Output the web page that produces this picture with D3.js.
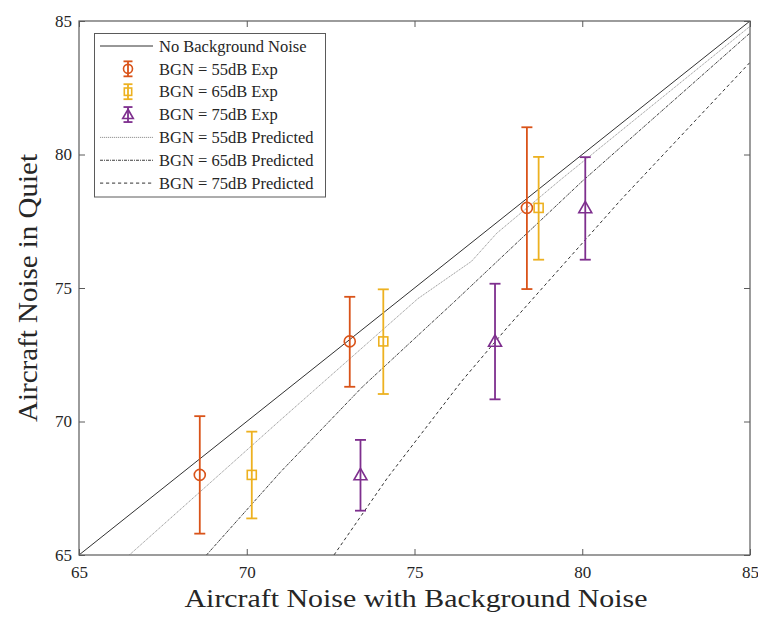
<!DOCTYPE html>
<html>
<head>
<meta charset="utf-8">
<script src="https://cdn.jsdelivr.net/npm/d3@7"></script>
<style>
  html, body { margin: 0; padding: 0; background: #fff; }
  svg { display: block; }
  text { font-family: "Palatino Linotype", "Book Antiqua", Palatino, "Liberation Serif", "DejaVu Serif", serif; fill: #262626; }
</style>
</head>
<body>
<svg id="chart" width="758" height="622"></svg>
<script>
// Axis ticks
const xTicks = [65, 70, 75, 80, 85];
const yTicks = [65, 70, 75, 80, 85];

// Measured levels (x = with background noise, y = in quiet, lo/hi = error bar ends)
const exp55 = [
  { x: 68.6, y: 68, lo: 65.8, hi: 70.2 },
  { x: 73.07, y: 73, lo: 71.3, hi: 74.67 },
  { x: 78.35, y: 78, lo: 74.96, hi: 81.02 }
];
const exp65 = [
  { x: 70.15, y: 68, lo: 66.37, hi: 69.62 },
  { x: 74.07, y: 73, lo: 71.03, hi: 74.95 },
  { x: 78.7, y: 78, lo: 76.06, hi: 79.91 }
];
const exp75 = [
  { x: 73.39, y: 68, lo: 66.66, hi: 69.31 },
  { x: 77.4, y: 73, lo: 70.83, hi: 75.16 },
  { x: 80.09, y: 78, lo: 76.06, hi: 79.9 }
];

// Reference line and predicted curves [x, y]
const noBgn = [[65, 65], [85, 85]];
const pred55 = [[66.5, 65], [71.0, 70.05], [75.1, 74.6], [76.7, 76.0], [77.45, 77.05], [79.35, 79.05], [85, 84.8]];
const pred65 = [[68.8, 65], [71.0, 68.1], [73.45, 71.3], [76.2, 74.5], [80.0, 79.0], [85, 84.55]];
const pred75 = [[72.6, 65], [74.2, 67.9], [76.4, 71.5], [77.75, 73.5], [81.15, 78.3], [85, 83.45]];

const colors = { c55: "#D95319", c65: "#EDB120", c75: "#7E2F8E" };

(function () {
  const svg = d3.select("#chart");
  const pL = 79, pR = 750, pT = 21, pB = 555;

  const x = d3.scaleLinear().domain([65, 85]).range([pL, pR]);
  const y = d3.scaleLinear().domain([65, 85]).range([pB, pT]);

  const plot = svg.append("g");
  svg.append("clipPath").attr("id", "plotClip")
    .append("rect").attr("x", pL).attr("y", pT).attr("width", pR - pL).attr("height", pB - pT);

  const line = d3.line().x(d => x(d[0])).y(d => y(d[1]));
  const lines = plot.append("g").attr("clip-path", "url(#plotClip)");

  const lineStyles = {
    none: { stroke: "#1a1a1a", width: 0.9, dash: null },
    p55: { stroke: "#8a8a8a", width: 0.9, dash: "1.2,0.8" },
    p65: { stroke: "#1a1a1a", width: 0.85, dash: "3,1,1,1" },
    p75: { stroke: "#1a1a1a", width: 0.9, dash: "3.2,2.8" }
  };

  function drawLine(data, st) {
    lines.append("path").datum(data)
      .attr("d", line)
      .attr("fill", "none")
      .attr("stroke", st.stroke)
      .attr("stroke-width", st.width)
      .attr("stroke-dasharray", st.dash);
  }
  drawLine(noBgn, lineStyles.none);
  drawLine(pred55, lineStyles.p55);
  drawLine(pred65, lineStyles.p65);
  drawLine(pred75, lineStyles.p75);

  function marker(g, type, cx, cy, color, size) {
    if (type === "circle") {
      g.append("circle").attr("cx", cx).attr("cy", cy).attr("r", size)
        .attr("fill", "none").attr("stroke", color).attr("stroke-width", 1.6);
    } else if (type === "square") {
      const h = size * 0.82;
      g.append("rect").attr("x", cx - h).attr("y", cy - h).attr("width", 2 * h).attr("height", 2 * h)
        .attr("fill", "none").attr("stroke", color).attr("stroke-width", 1.6);
    } else {
      const s = size * 1.18;
      g.append("path")
        .attr("d", `M${cx},${cy - s}L${cx + s},${cy + s * 0.75}L${cx - s},${cy + s * 0.75}Z`)
        .attr("fill", "none").attr("stroke", color).attr("stroke-width", 1.6);
    }
  }

  function errorBar(g, cx, yLo, yHi, color, cap) {
    g.append("line").attr("x1", cx).attr("x2", cx).attr("y1", yLo).attr("y2", yHi)
      .attr("stroke", color).attr("stroke-width", 1.8);
    [yLo, yHi].forEach(v => {
      g.append("line").attr("x1", cx - cap).attr("x2", cx + cap).attr("y1", v).attr("y2", v)
        .attr("stroke", color).attr("stroke-width", 1.8);
    });
  }

  function drawErrorSeries(data, color, type) {
    const g = plot.append("g");
    data.forEach(d => {
      const cx = x(d.x);
      errorBar(g, cx, y(d.lo), y(d.hi), color, 5.5);
      marker(g, type, cx, y(d.y), color, 5.5);
    });
  }
  drawErrorSeries(exp55, colors.c55, "circle");
  drawErrorSeries(exp65, colors.c65, "square");
  drawErrorSeries(exp75, colors.c75, "triangle");

  // Axes, ticks pointing inward on all four sides
  const axisColor = "#5a5a5a";
  function styleAxis(g, showLabels) {
    g.select(".domain").remove();
    g.selectAll(".tick line").attr("stroke", axisColor).attr("stroke-width", 1);
    g.selectAll(".tick text").attr("font-size", 17).attr("fill", "#262626")
      .style("display", showLabels ? null : "none");
  }
  svg.append("g").attr("transform", `translate(0,${pB})`)
    .call(d3.axisBottom(x).tickValues(xTicks).tickSize(-6).tickPadding(11).tickFormat(d3.format("d")))
    .call(g => styleAxis(g, true));
  svg.append("g").attr("transform", `translate(0,${pT})`)
    .call(d3.axisTop(x).tickValues(xTicks).tickSize(-6).tickFormat(""))
    .call(g => styleAxis(g, false));
  svg.append("g").attr("transform", `translate(${pL},0)`)
    .call(d3.axisLeft(y).tickValues(yTicks).tickSize(-6).tickPadding(7).tickFormat(d3.format("d")))
    .call(g => styleAxis(g, true));
  svg.append("g").attr("transform", `translate(${pR},0)`)
    .call(d3.axisRight(y).tickValues(yTicks).tickSize(-6).tickFormat(""))
    .call(g => styleAxis(g, false));

  svg.append("rect").attr("x", pL).attr("y", pT).attr("width", pR - pL).attr("height", pB - pT)
    .attr("fill", "none").attr("stroke", axisColor).attr("stroke-width", 1.2);

  // Axis titles
  svg.append("text").attr("x", 416).attr("y", 607)
    .attr("text-anchor", "middle").attr("font-size", 26)
    .attr("textLength", 463).attr("lengthAdjust", "spacingAndGlyphs")
    .text("Aircraft Noise with Background Noise");
  svg.append("text").attr("transform", `translate(37,${(pT + pB) / 2}) rotate(-90)`)
    .attr("text-anchor", "middle").attr("font-size", 27)
    .attr("textLength", 268).attr("lengthAdjust", "spacingAndGlyphs")
    .text("Aircraft Noise in Quiet");

  // Legend
  const legendItems = [
    { label: "No Background Noise", kind: "line", st: lineStyles.none },
    { label: "BGN = 55dB Exp", kind: "err", color: colors.c55, type: "circle" },
    { label: "BGN = 65dB Exp", kind: "err", color: colors.c65, type: "square" },
    { label: "BGN = 75dB Exp", kind: "err", color: colors.c75, type: "triangle" },
    { label: "BGN = 55dB Predicted", kind: "line", st: lineStyles.p55 },
    { label: "BGN = 65dB Predicted", kind: "line", st: lineStyles.p65 },
    { label: "BGN = 75dB Predicted", kind: "line", st: lineStyles.p75 }
  ];
  const lg = svg.append("g");
  lg.append("rect").attr("x", 94.5).attr("y", 33.5).attr("width", 231).attr("height", 163.5)
    .attr("fill", "#fff").attr("stroke", "#5a5a5a").attr("stroke-width", 1);
  legendItems.forEach((it, i) => {
    const cy = 46 + i * 22.85;
    if (it.kind === "line") {
      lg.append("line").attr("x1", 100).attr("x2", 153).attr("y1", cy).attr("y2", cy)
        .attr("stroke", it.st.stroke).attr("stroke-width", it.st.width).attr("stroke-dasharray", it.st.dash);
    } else {
      errorBar(lg, 128, cy - 7.5, cy + 7.5, it.color, 4.5);
      marker(lg, it.type, 128, cy, it.color, 4.5);
    }
    lg.append("text").attr("x", 159).attr("y", cy).attr("dy", "0.35em")
      .attr("font-size", 16.5).text(it.label);
  });
})();
</script>
</body>
</html>
